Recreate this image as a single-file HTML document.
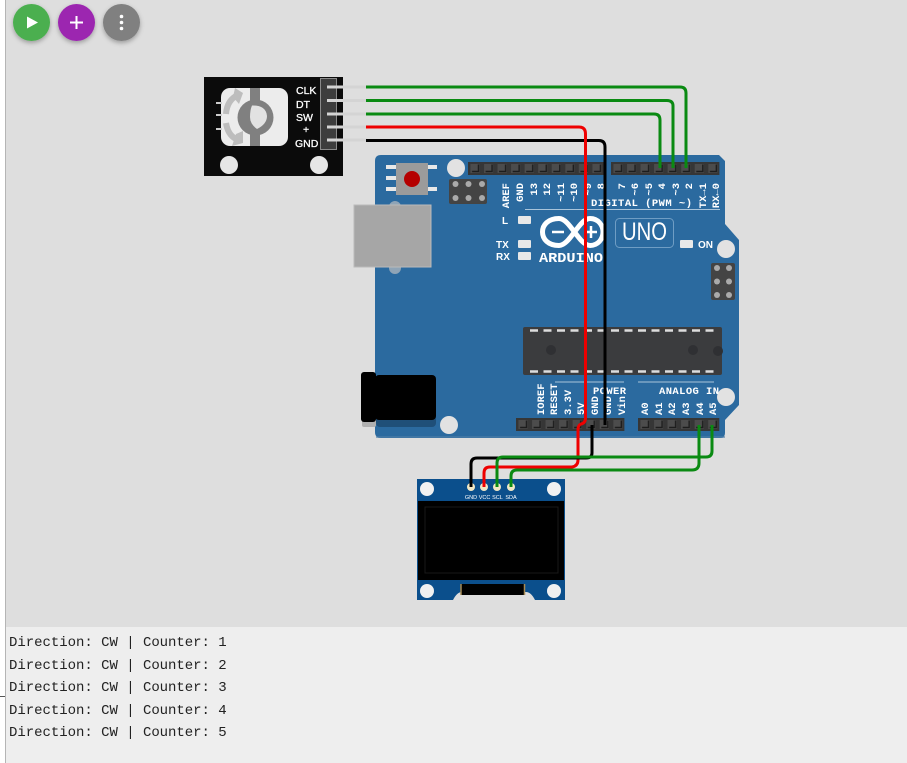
<!DOCTYPE html>
<html><head><meta charset="utf-8"><style>
html,body{margin:0;padding:0;width:907px;height:763px;overflow:hidden;background:#fff}
svg{position:absolute;left:0;top:0;display:block}
.m{font-family:"Liberation Mono",monospace;font-weight:bold;fill:#fff;font-size:10.5px}
.s{font-family:"Liberation Sans",sans-serif;fill:#fff}
.c{font-family:"Liberation Mono",monospace;font-size:14px;fill:#222;letter-spacing:-.03px}
.w{fill:none;stroke-width:3;stroke-linejoin:round}
.d{filter:blur(.35px)}
</style></head><body>
<svg width="907" height="763" viewBox="0 0 907 763" xmlns="http://www.w3.org/2000/svg">
<defs>
<pattern id="p" width="13.55" height="13" patternUnits="userSpaceOnUse">
<rect width="13.55" height="13" fill="#363636"/><rect x="2.5" y="2" width="9" height="9" fill="#4c4c4c"/><path d="M4 9.500h6.500v-7" fill="none" stroke="#1d1d1d" stroke-width="1.400"/>
</pattern>
<filter id="sh" x="-40%" y="-40%" width="180%" height="180%"><feDropShadow dx="0" dy="2" stdDeviation="2.500" flood-color="#000" flood-opacity=".3"/></filter>
</defs>
<rect x="5" y="0" width="902" height="627" fill="#dedede"/>
<rect x="5" y="627" width="902" height="136" fill="#eee"/>
<rect x="5" y="0" width="1" height="763" fill="#b5b5b5"/>
<rect x="0" y="696" width="5" height="1" fill="#555"/>

<!-- buttons -->
<circle cx="31.500" cy="22.500" r="18.500" fill="#4caf50" filter="url(#sh)"/>
<path d="M27 16.500L38 22.500L27 28.500Z" fill="#fff"/>
<circle cx="76.500" cy="22.500" r="18.500" fill="#9c27b0" filter="url(#sh)"/>
<path d="M76.500 16v13M70 22.500h13" stroke="#fff" stroke-width="2"/>
<circle cx="121.500" cy="22.500" r="18.500" fill="#808080" filter="url(#sh)"/>
<circle cx="121.500" cy="16.500" r="1.800" fill="#fff"/><circle cx="121.500" cy="22.500" r="1.800" fill="#fff"/><circle cx="121.500" cy="28.500" r="1.800" fill="#fff"/>

<g class="d">
<!-- arduino board -->
<path d="M381 155H719L725 161V224L739 240V405L725 420V433Q725 438 720 438H381Q375 438 375 432V161Q375 155 381 155Z" fill="#2b6a9f"/>
<rect x="376" y="436" width="349" height="2" fill="#4f7fa8" opacity=".6"/>
<rect transform="translate(468,162)" width="135.500" height="13" fill="url(#p)"/>
<rect transform="translate(611,162)" width="108.400" height="13" fill="url(#p)"/>
<rect transform="translate(516,418)" width="108.400" height="13" fill="url(#p)"/>
<rect transform="translate(638,418)" width="81.300" height="13" fill="url(#p)"/>
<circle cx="456" cy="168" r="9" fill="#e2e2e2"/><circle cx="726" cy="249" r="9" fill="#e2e2e2"/>
<circle cx="726" cy="397" r="9" fill="#e2e2e2"/><circle cx="449" cy="425" r="9" fill="#e2e2e2"/>
<!-- reset -->
<g fill="#e8e8e8"><rect x="386" y="165" width="10" height="4"/><rect x="386" y="176" width="10" height="4"/><rect x="386" y="187" width="10" height="4"/><rect x="428" y="165" width="9" height="4"/><rect x="428" y="187" width="9" height="4"/></g>
<rect x="396" y="163" width="32" height="32" fill="#9b9b9b"/><circle cx="412" cy="179" r="8" fill="#b50000"/>
<!-- icsp -->
<rect x="449" y="179" width="38" height="25" rx="2" fill="#444"/>
<g fill="#aaa"><circle cx="455.500" cy="184" r="3"/><circle cx="468.500" cy="184" r="3"/><circle cx="482" cy="184" r="3"/><circle cx="455.500" cy="198" r="3"/><circle cx="468.500" cy="198" r="3"/><circle cx="482" cy="198" r="3"/></g>
<rect x="711" y="263" width="24" height="37" rx="2" fill="#444"/>
<g fill="#aaa"><circle cx="717" cy="268" r="3"/><circle cx="729" cy="268" r="3"/><circle cx="717" cy="281.500" r="3"/><circle cx="729" cy="281.500" r="3"/><circle cx="717" cy="295" r="3"/><circle cx="729" cy="295" r="3"/></g>
<!-- usb -->
<circle cx="395" cy="207" r="6" fill="#8fa4b6"/><circle cx="395" cy="268" r="6" fill="#8fa4b6"/>
<rect x="354" y="205" width="77" height="62" fill="#a6a6a6" stroke="#bbb" stroke-width="1"/>
<!-- jack -->
<rect x="376" y="378" width="60" height="49" rx="4" fill="#1f4f78"/>
<rect x="362" y="400" width="14" height="27" rx="2" fill="#b0b0b0"/>
<rect x="361" y="372" width="15" height="50" rx="3" fill="#000"/>
<rect x="375" y="375" width="61" height="45" rx="4" fill="#000"/>
<!-- IC -->
<rect x="523" y="327" width="199" height="48" rx="2" fill="#3b3c3e"/>
<path d="M530 330.500H716M530 371.500H716" stroke="#ddd" stroke-width="2.500" stroke-dasharray="8 5.500"/>
<circle cx="551" cy="350" r="5" fill="#2f3033"/><circle cx="693" cy="350" r="5" fill="#2f3033"/><circle cx="718" cy="351" r="5" fill="#2f3033"/>
<!-- LEDs -->
<g fill="#e8e8e8"><rect x="518" y="216" width="13" height="8" rx="1"/><rect x="518" y="240" width="13" height="8" rx="1"/><rect x="518" y="252" width="13" height="8" rx="1"/><rect x="680" y="240" width="13" height="8" rx="1"/></g>
<g class="s" font-size="10" font-weight="bold"><text x="502" y="224">L</text><text x="496" y="248">TX</text><text x="496" y="260">RX</text><text x="698" y="248">ON</text></g>
<!-- logo -->
<path d="M559 218.500C570 218.500 579 245.500 590 245.500C598 245.500 603 239 603 232C603 225 598 218.500 590 218.500C579 218.500 570 245.500 559 245.500C548 245.500 542.500 239 542.500 232C542.500 225 548 218.500 559 218.500Z" fill="none" stroke="#fff" stroke-width="5"/>
<path d="M552 232h12M585 232h12M591 226v12" stroke="#fff" stroke-width="2.500"/>
<text x="539" y="262" class="m" style="font-size:13.500px" textLength="64" lengthAdjust="spacingAndGlyphs">ARDUINO</text>
<rect x="615.500" y="218.500" width="58" height="29" rx="4" fill="none" stroke="#6f9dc4" stroke-width="1"/>
<text x="622" y="240" class="s" font-size="25" textLength="45" lengthAdjust="spacingAndGlyphs">UNO</text>
<!-- top labels -->
<path d="M525 209.500H720" stroke="#a9c4da" stroke-width="1"/>
<text x="591" y="206" class="m" textLength="101">DIGITAL (PWM ~)</text>
<g class="m" text-anchor="end">
<text transform="translate(509,183) rotate(-90)">AREF</text>
<text transform="translate(523,183) rotate(-90)">GND</text>
<text transform="translate(537,183) rotate(-90)">13</text>
<text transform="translate(550,183) rotate(-90)">12</text>
<text transform="translate(564,183) rotate(-90)">~11</text>
<text transform="translate(577,183) rotate(-90)">~10</text>
<text transform="translate(591,183) rotate(-90)">~9</text>
<text transform="translate(604,183) rotate(-90)">8</text>
<text transform="translate(625,183) rotate(-90)">7</text>
<text transform="translate(638,183) rotate(-90)">~6</text>
<text transform="translate(652,183) rotate(-90)">~5</text>
<text transform="translate(665,183) rotate(-90)">4</text>
<text transform="translate(679,183) rotate(-90)">~3</text>
<text transform="translate(692,183) rotate(-90)">2</text>
<text transform="translate(706,183) rotate(-90)">TX→1</text>
<text transform="translate(719,183) rotate(-90)">RX←0</text>
</g>
<!-- bottom labels -->
<path d="M555 382H624M638 382H714" stroke="#a9c4da" stroke-width="1"/>
<text x="593" y="394" class="m" textLength="33">POWER</text>
<text x="659" y="394" class="m" textLength="60">ANALOG IN</text>
<g class="m">
<text transform="translate(544,415) rotate(-90)">IOREF</text>
<text transform="translate(557,415) rotate(-90)">RESET</text>
<text transform="translate(571,415) rotate(-90)">3.3V</text>
<text transform="translate(584,415) rotate(-90)">5V</text>
<text transform="translate(598,415) rotate(-90)">GND</text>
<text transform="translate(611,415) rotate(-90)">GND</text>
<text transform="translate(625,415) rotate(-90)">Vin</text>
<text transform="translate(648,415) rotate(-90)">A0</text>
<text transform="translate(662,415) rotate(-90)">A1</text>
<text transform="translate(675,415) rotate(-90)">A2</text>
<text transform="translate(689,415) rotate(-90)">A3</text>
<text transform="translate(703,415) rotate(-90)">A4</text>
<text transform="translate(716,415) rotate(-90)">A5</text>
</g>

<!-- encoder -->
<rect x="204" y="77" width="139" height="99" fill="#0b0b0b"/>
<rect x="221" y="88" width="67" height="58" rx="9" fill="#ececec"/>
<g stroke="#ccc" stroke-width="2"><path d="M216 103h6M216 115h6M216 129h6"/></g>
<path d="M226 114Q227 100 238 95" fill="none" stroke="#bdbdbd" stroke-width="6"/>
<path d="M235 88L243 93L239 104L233 97Z" fill="#bdbdbd"/>
<path d="M226 123Q228 136 238 140" fill="none" stroke="#bdbdbd" stroke-width="6"/>
<path d="M243 131L243 143L232 146L236 134Z" fill="#bdbdbd"/>
<rect x="250" y="88" width="10" height="58" fill="#808080"/>
<circle cx="255.500" cy="117.500" r="18" fill="#808080"/>
<path d="M252 105.500Q266 105 267 116Q267 124 257 129Q250 124 250 117Q250 110 252 105.500Z" fill="#e2e2e2"/>
<circle cx="229" cy="165" r="9" fill="#e6e6e6"/><circle cx="319" cy="165" r="9" fill="#e6e6e6"/>
<rect x="320.500" y="78.500" width="16" height="71" fill="#3d3d3d" stroke="#8a8a8a" stroke-width="1"/>
<g stroke="#d4d4d4" stroke-width="3"><path d="M327 87H367M327 100.500H367M327 114H367M327 127H367M327 140H367"/></g>
<g class="s" style="font-size:10.500px;stroke:#fff;stroke-width:.3px">
<text x="296" y="94">CLK</text><text x="296" y="108">DT</text><text x="296" y="121">SW</text><text x="303" y="133">+</text><text x="295" y="147">GND</text>
</g>

<!-- oled -->
<path d="M417 479H565V600H535Q531 592 526 592H462Q457 592 453 600H417Z" fill="#0b4f8c"/>
<rect x="418" y="501" width="146" height="79" fill="#000"/>
<rect x="425" y="507" width="133" height="66" fill="none" stroke="#191919" stroke-width="1"/>
<rect x="461" y="584" width="64" height="11" fill="#000"/>
<path d="M461 584v11M524.500 584v11" stroke="#a68a55" stroke-width="1.500"/>
<g fill="#f1f1f1"><circle cx="427" cy="489" r="7"/><circle cx="554" cy="489" r="7"/><circle cx="427" cy="591" r="7"/><circle cx="554" cy="591" r="7"/></g>
<g fill="#f2e8c4"><circle cx="471" cy="487" r="4"/><circle cx="484" cy="487" r="4"/><circle cx="497" cy="487" r="4"/><circle cx="511" cy="487" r="4"/></g>
<g class="s" style="font-size:5.500px" text-anchor="middle"><text x="471" y="499">GND</text><text x="484.500" y="499">VCC</text><text x="497.500" y="499">SCL</text><text x="511" y="499">SDA</text></g>

<!-- wires -->
<path class="w" stroke="#0a8a12" d="M366 87H680Q686 87 686 93V168"/>
<path class="w" stroke="#0a8a12" d="M366 100.500H667Q673 100.500 673 106V168"/>
<path class="w" stroke="#0a8a12" d="M366 114H654Q660 114 660 120V168"/>
<path class="w" stroke="#000" d="M366 140.500H599Q605 140.500 605 147V425"/>
<path class="w" stroke="#ee0000" d="M366 127H579Q585.500 127 585.500 134V418Q585.500 423 581 424Q578 425 578 430V460Q578 466 572 467H490Q484 467 484 473V487"/>
<path class="w" stroke="#000" d="M592 425V453Q592 458 586 458H477Q471 458 471 464V487"/>
<path class="w" stroke="#0a8a12" d="M712 425V451Q712 457 706 457H503Q497 457 497 463V487"/>
<path class="w" stroke="#0a8a12" d="M699 425V463Q699 470 692 470H517Q511 470 511 476V487"/>
</g>

<!-- console -->
<g class="c">
<text x="9" y="646">Direction: CW | Counter: 1</text>
<text x="9" y="669">Direction: CW | Counter: 2</text>
<text x="9" y="691">Direction: CW | Counter: 3</text>
<text x="9" y="714">Direction: CW | Counter: 4</text>
<text x="9" y="736">Direction: CW | Counter: 5</text>
</g>
</svg>
</body></html>
